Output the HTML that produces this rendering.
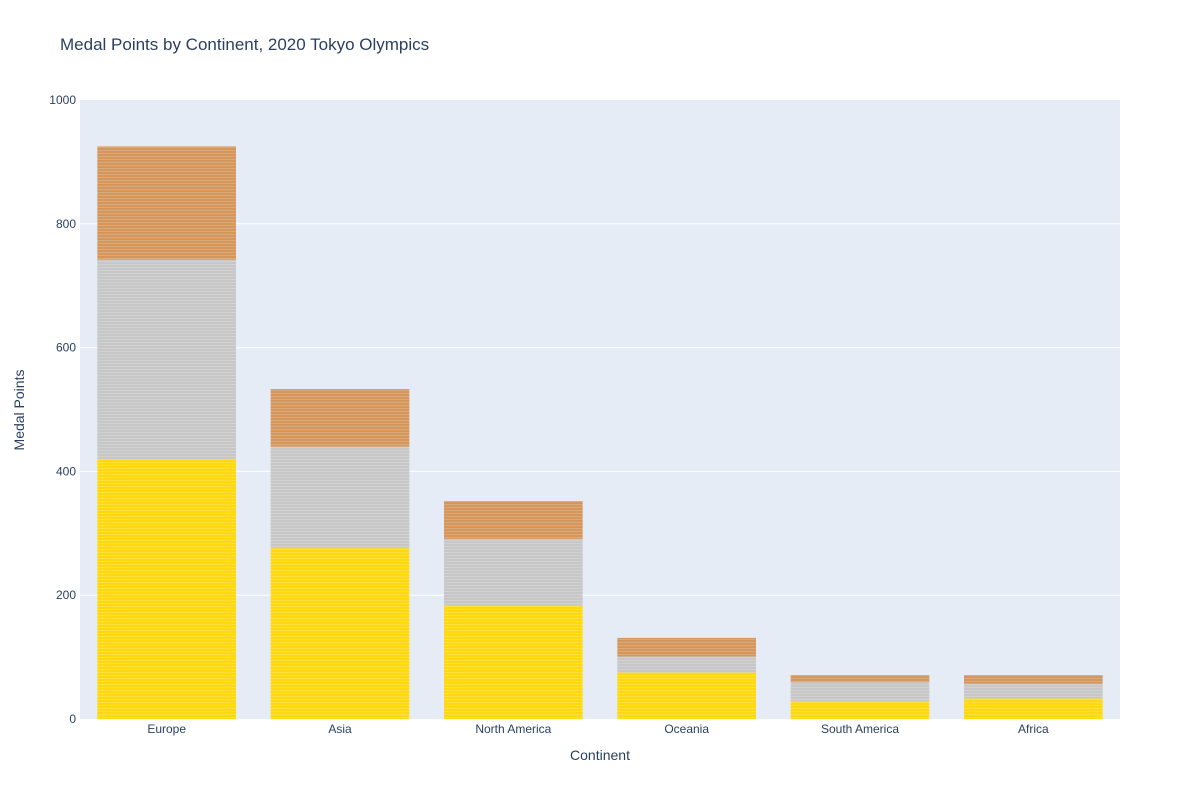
<!DOCTYPE html>
<html><head><meta charset="utf-8"><style>
body{margin:0;background:#fff;font-family:"Liberation Sans",sans-serif;}
svg text{font-family:"Liberation Sans",sans-serif;fill:#2a3f5f;}
</style></head><body>
<svg width="1200" height="800" id="chart">
<defs>
<pattern id="stripes" width="4" height="3" patternUnits="userSpaceOnUse"><rect width="4" height="1" fill="rgba(255,255,255,0.18)"/></pattern>
</defs>
<text x="60" y="50" font-size="17">Medal Points by Continent, 2020 Tokyo Olympics</text>
<rect x="80" y="100" width="1040" height="619" fill="#e5ecf6"/>
<g id="grid"></g><g id="bars"></g><g id="axes"></g>
<text x="600" y="760" font-size="14" text-anchor="middle">Continent</text>
<text x="24" y="410" font-size="14" text-anchor="middle" transform="rotate(-90 24 410)">Medal Points</text>
</svg>
<script>
const categories=["Europe","Asia","North America","Oceania","South America","Africa"];
const gold=[420,276,183,75,29,33];
const silver=[322,164,108,26,31,24];
const bronze=[183,93,61,30,11,14];
const yTicks=[0,200,400,600,800,1000];
const NS="http://www.w3.org/2000/svg";
const x0=80,x1=1120,yTop=100,yBot=719,yMax=1000;
const y=v=>yBot-v/yMax*(yBot-yTop);
const band=(x1-x0)/categories.length,bw=band*0.8;
function mk(tag,attrs,parent){const e=document.createElementNS(NS,tag);for(const k in attrs)e.setAttribute(k,attrs[k]);parent.appendChild(e);return e;}
const grid=document.getElementById('grid'),bars=document.getElementById('bars'),axes=document.getElementById('axes');
yTicks.forEach(t=>{
 if(t>0&&t<yMax){const l=mk('line',{x1:x0,x2:x1,y1:y(t),y2:y(t),stroke:'#fff','stroke-width':1},grid);
 
 }
 const tx=mk('text',{x:x0-4,y:y(t)+4,'font-size':12,'text-anchor':'end'},axes);tx.textContent=t;
 
 
});
const series=[["gold",gold,"#FFD80F"],["silver",silver,"#C7C7C7"],["bronze",bronze,"#D4965A"]];
categories.forEach((c,i)=>{
 const cx=x0+band*(i+0.5);let base=0;
 series.forEach(([n,arr,col])=>{
  const v=arr[i];
  const r=mk('rect',{x:cx-bw/2,y:y(base+v),width:bw,height:y(base)-y(base+v),fill:col},bars);
  
  
  const s=mk('rect',{x:cx-bw/2,y:y(base+v),width:bw,height:y(base)-y(base+v),fill:'url(#stripes)'},bars);
  
  
  base+=v;
 });
 const tx=mk('text',{x:cx,y:733,'font-size':12,'text-anchor':'middle'},axes);tx.textContent=c;
 
 
});
</script>
</body></html>
